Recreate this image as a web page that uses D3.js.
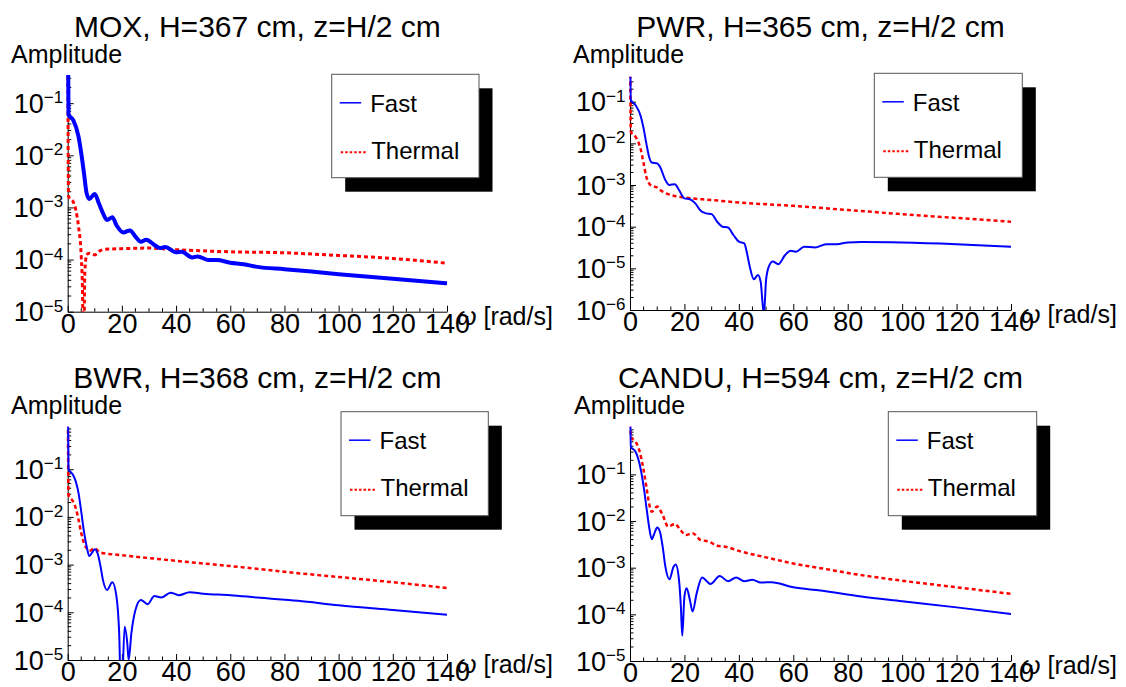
<!DOCTYPE html>
<html lang="en">
<head>
<meta charset="UTF-8">
<title>Amplitude vs omega</title>
<style>
body { margin: 0; background: #fff; }
svg { display: block; font-family: "Liberation Sans", Arial, sans-serif; }
.fast { fill: none; stroke: #0000ff; stroke-width: 2; }
.thermal { fill: none; stroke: #ff0000; stroke-width: 2.5; stroke-dasharray: 4,3; }
.axis path, .axis line { stroke: #000; stroke-width: 1; }
.axis text { font-size: 27px; fill: #000; }
</style>
</head>
<body>
<script src="https://cdnjs.cloudflare.com/ajax/libs/d3/7.8.5/d3.min.js"></script>
<script>
// ---- data: [omega (rad/s), amplitude] ----
var moxFast = [[0,10],[0.3,0.0597],[2,0.0479],[4,0.0229],[5,0.0110],[6,0.00457],[7,0.00186],[8,0.00145],
  [10,0.00182],[11.5,0.00120],[13,0.000776],[14.5,0.000575],[16.5,0.000646],[18,0.000457],[20.5,0.000331],
  [23,0.000363],[25,0.000275],[27,0.000219],[29,0.000240],[32,0.000191],[34,0.000166],[36,0.000174],
  [40,0.000138],[42,0.000141],[46,0.000110],[48,0.000115],[52,9.77e-5],[55,9.77e-5],[60,8.71e-5],
  [65,8.13e-5],[70,7.24e-5],[80,6.53e-5],[90,5.89e-5],[100,5.25e-5],[120,4.27e-5],[140,3.51e-5]];
var moxThermal = [[0,10],[0.3,0.00162],[2,0.00129],[3,0.000891],[4,0.000427],[5,0.000115],[5.5,2.0e-5],
  [5.8,1e-7],[6.3,5.5e-5],[7,0.000123],[8,0.000132],[10,0.000123],[12,0.000148],[14,0.000158],
  [20,0.000162],[30,0.000166],[40,0.000155],[60,0.000141],[80,0.000135],[100,0.000120],[120,0.000105],[140,8.51e-5]];

var pwrFast = [[0,10],[0.3,0.110],[2,0.0832],[4,0.0437],[5,0.0229],[6,0.0100],[7,0.00479],[8,0.00347],
  [10,0.00331],[11,0.00275],[13,0.00132],[14.5,0.00100],[16.5,0.00105],[18,0.000759],[20,0.000479],
  [22,0.000457],[24,0.000363],[26,0.000240],[28,0.000209],[30,0.000200],[32,0.000132],[34,1.0e-4],
  [36,9.55e-5],[38,6.31e-5],[40,4.37e-5],[42,3.98e-5],[43,2.29e-5],[44,1.10e-5],[45.5,5.5e-6],[47,6.9e-6],
  [48,4.8e-6],[49.2,8e-7],[50,5.25e-6],[51,1.10e-5],[52.5,1.45e-5],[54.5,1.26e-5],[57,2.09e-5],[59,2.63e-5],
  [61,2.51e-5],[64,3.31e-5],[68,3.16e-5],[72,3.80e-5],[76,3.80e-5],[80,4.17e-5],[85,4.27e-5],[100,4.17e-5],
  [120,3.80e-5],[140,3.31e-5]];
var pwrThermal = [[0,10],[0.3,0.0191],[2,0.0145],[3,0.0110],[4,0.00692],[5,0.00331],[6,0.00158],[7,0.00110],
  [8,0.000955],[10,0.000871],[12,0.000692],[14,0.000603],[20,0.000501],[30,0.000437],[40,0.000380],
  [60,0.000316],[80,0.000251],[100,0.000200],[120,0.000162],[140,0.000132]];

var bwrFast = [[0,10],[0.3,0.1],[2,0.0759],[3,0.0550],[4,0.0316],[5,0.0129],[6,0.00490],[7,0.00240],[8,0.00151],
  [9,0.00178],[10,0.00209],[11,0.00174],[12,0.00100],[13,0.000479],[14.5,0.000295],[16.5,0.000427],
  [18,0.000214],[19,3.63e-5],[19.8,1e-6],[21,5.0e-5],[22,2.24e-5],[22.5,1.0e-5],[23.5,3.63e-5],[25,0.000112],
  [27,0.000182],[29.5,0.000148],[32,0.000219],[34.5,0.000204],[38,0.000257],[41,0.000229],[45,0.000263],
  [50,0.000245],[60,0.000229],[70,0.000204],[85,0.000174],[100,0.000141],[120,0.000112],[140,8.91e-5]];
var bwrThermal = [[0,10],[0.3,0.0288],[2,0.0209],[3,0.0151],[4,0.00871],[5,0.00457],[6,0.00282],[7,0.00219],
  [8,0.00195],[10,0.00219],[12,0.00178],[20,0.00158],[40,0.00120],[60,0.000933],[85,0.000661],
  [100,0.000550],[120,0.000427],[140,0.000324]];

var canduFast = [[0,10],[0.3,0.389],[2,0.309],[3,0.219],[4,0.123],[5,0.0550],[6,0.0204],[7,0.00759],[8,0.00407],
  [9,0.00550],[10,0.00724],[11,0.00589],[12,0.00282],[13,0.00105],[14.5,0.000562],[16,0.00105],[16.8,0.00117],
  [18,0.000550],[18.7,0.000145],[19.2,3.47e-5],[20,0.000240],[20.8,0.000363],[22,0.000204],[23,0.000115],
  [24.5,0.000282],[26.5,0.000617],[29.5,0.000447],[33,0.000661],[36,0.000513],[39,0.000617],[42,0.000513],
  [45,0.000550],[48,0.000479],[52,0.000490],[60,0.000380],[70,0.000324],[85,0.000240],[100,0.000191],
  [120,0.000141],[140,0.000102]];
var canduThermal = [[0,10],[0.3,0.646],[2,0.501],[3,0.389],[4,0.240],[5,0.123],[6,0.0550],[7,0.0240],[8,0.0158],
  [10,0.0204],[12,0.0135],[14,0.00759],[16.5,0.00871],[18.5,0.00646],[20.5,0.00501],[23,0.00550],[26,0.00389],
  [29,0.00363],[32,0.00295],[35,0.00282],[40,0.00229],[50,0.00166],[60,0.00123],[70,0.000977],[85,0.000692],
  [100,0.000525],[120,0.000380],[140,0.000275]];

var titles = ["MOX, H=367 cm, z=H/2 cm", "PWR, H=365 cm, z=H/2 cm", "BWR, H=368 cm, z=H/2 cm", "CANDU, H=594 cm, z=H/2 cm"];
var seriesNames = ["Fast", "Thermal"];
var xTicks = [0, 20, 40, 60, 80, 100, 120, 140];
var yDomains = [[1e-5, 0.347], [1e-6, 0.398], [1e-5, 0.78], [1e-5, 1.05]];

// ---- layout (pixels) ----
var panels = [
  { fast: moxFast, thermal: moxThermal, left: 67.7, right: 447, top: 75, bottom: 311.7, titleY: 37, ampX: 11,
    legend: [331.7, 74.3, 147.3, 103.4], fastW: 4, thermW: 3 },
  { fast: pwrFast, thermal: pwrThermal, left: 630, right: 1011, top: 76.7, bottom: 310, titleY: 37, ampX: 573,
    legend: [874.3, 73.3, 148, 104], fastW: 2, thermW: 2.5 },
  { fast: bwrFast, thermal: bwrThermal, left: 67.7, right: 447, top: 426.7, bottom: 660, titleY: 388, ampX: 11,
    legend: [341, 411.7, 147.3, 104], fastW: 2, thermW: 2.5 },
  { fast: canduFast, thermal: canduThermal, left: 630, right: 1011, top: 426.7, bottom: 661, titleY: 388, ampX: 574,
    legend: [888.3, 411.7, 148.4, 104], fastW: 2, thermW: 2.5 }
];

var svg = d3.select("body").append("svg")
  .attr("width", 1126)
  .attr("height", 687);

panels.forEach(function (p, i) {
  var x = d3.scaleLinear().domain([0, 140]).range([p.left, p.right]);
  var y = d3.scaleLog().domain(yDomains[i]).range([p.bottom, p.top]);
  var g = svg.append("g");

  // title + y label
  g.append("text")
    .attr("x", (p.left + p.right) / 2).attr("y", p.titleY)
    .attr("text-anchor", "middle").style("font-size", "30px")
    .text(titles[i]);
  g.append("text")
    .attr("x", p.ampX).attr("y", p.titleY + 25.7)
    .style("font-size", "25px")
    .text("Amplitude");

  // clip for curves
  svg.append("clipPath").attr("id", "clip" + i)
    .append("rect")
    .attr("x", p.left - 3).attr("y", p.top)
    .attr("width", p.right - p.left + 6).attr("height", p.bottom - p.top);

  // x axis, inward ticks
  var xAxis = d3.axisBottom(x).tickValues(xTicks)
    .tickSizeInner(-6).tickSizeOuter(0).tickPadding(2)
    .tickFormat(d3.format("d"));
  var xg = g.append("g").attr("class", "axis")
    .attr("transform", "translate(0," + p.bottom + ")")
    .call(xAxis)
    .attr("font-size", null).attr("font-family", null);
  var minorX = d3.range(5, 140, 5).filter(function (v) { return v % 20 != 0; });
  xg.selectAll("line.minor").data(minorX).enter().append("line")
    .attr("class", "minor")
    .attr("x1", function (d) { return x(d); }).attr("x2", function (d) { return x(d); })
    .attr("y1", 0).attr("y2", -3.5);

  // y axis, inward ticks, labels drawn as 10^k
  var dom = yDomains[i];
  var lo = Math.round(Math.log10(dom[0]));
  var majors = d3.range(lo, 0).map(function (k) { return Math.pow(10, k); });
  var minors = [];
  d3.range(lo, 0).forEach(function (k) {
    for (var m = 2; m <= 9; m++) {
      var v = m * Math.pow(10, k);
      if (v <= dom[1]) minors.push(v);
    }
  });
  var yAxis = d3.axisLeft(y).tickValues(majors)
    .tickSizeInner(-6).tickSizeOuter(0).tickFormat("");
  var yg = g.append("g").attr("class", "axis")
    .attr("transform", "translate(" + p.left + ",0)")
    .call(yAxis);
  yg.selectAll("line.minor").data(minors).enter().append("line")
    .attr("class", "minor")
    .attr("x1", 0).attr("x2", 3.5)
    .attr("y1", function (d) { return y(d); }).attr("y2", function (d) { return y(d); });

  d3.range(lo, 0).forEach(function (k) {
    var t = g.append("text")
      .attr("x", p.left - 4.5).attr("y", y(Math.pow(10, k)) + 9.5)
      .attr("text-anchor", "end").style("font-size", "27px");
    t.append("tspan").text("10");
    t.append("tspan").attr("dy", -9.5).style("font-size", "17px").text("\u2212" + (-k));
  });

  // x axis label
  var xl = g.append("text")
    .attr("x", p.right + 10).attr("y", p.bottom + 13)
    .style("font-size", "25px");
  xl.append("tspan").style("font-style", "italic").text("\u03c9");
  xl.append("tspan").text(" [rad/s]");

  // curves
  var line = d3.line()
    .x(function (d) { return x(d[0]); })
    .y(function (d) { return y(d[1]); })
    .curve(d3.curveMonotoneX);
  var cg = g.append("g").attr("clip-path", "url(#clip" + i + ")");
  cg.append("path").datum(p.thermal).attr("class", "thermal")
    .style("stroke-width", p.thermW).attr("d", line);
  cg.append("path").datum(p.fast).attr("class", "fast")
    .style("stroke-width", p.fastW).attr("d", line);

  // legend with drop shadow
  var L = p.legend;
  var lg = g.append("g").attr("transform", "translate(" + L[0] + "," + L[1] + ")");
  lg.append("rect").attr("x", 13.5).attr("y", 14).attr("width", L[2]).attr("height", L[3]).attr("fill", "#000");
  lg.append("rect").attr("width", L[2]).attr("height", L[3])
    .attr("fill", "#fff").attr("stroke", "#555").attr("stroke-width", 1);
  lg.append("line").attr("x1", 8).attr("x2", 29.5).attr("y1", 28.5).attr("y2", 28.5)
    .attr("stroke", "#0000ff").attr("stroke-width", 1.5);
  lg.append("text").attr("x", 38.5).attr("y", 37.5).style("font-size", "24px").text(seriesNames[0]);
  lg.append("line").attr("x1", 9).attr("x2", 36).attr("y1", 78).attr("y2", 78)
    .attr("stroke", "#ff0000").attr("stroke-width", 2).attr("stroke-dasharray", "2.5,2");
  lg.append("text").attr("x", 39.5).attr("y", 84.5).style("font-size", "24px").text(seriesNames[1]);
});
</script>
</body>
</html>
